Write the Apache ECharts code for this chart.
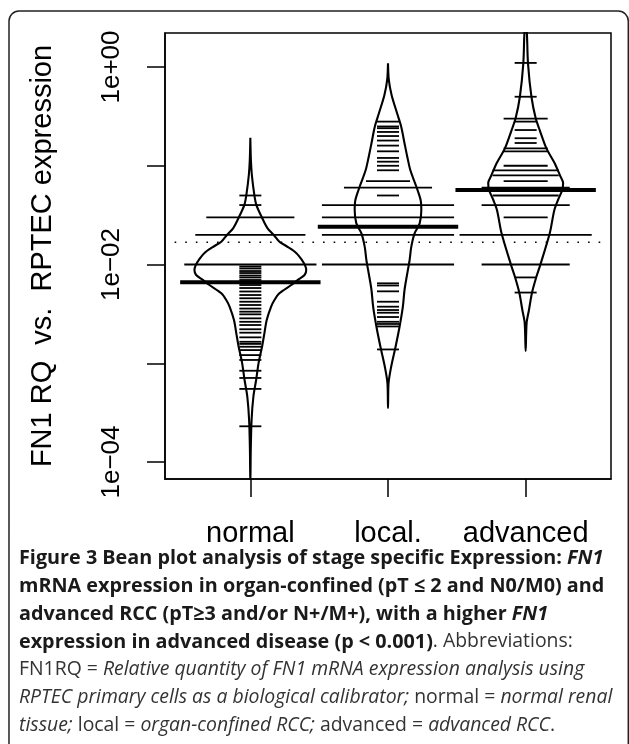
<!DOCTYPE html>
<html>
<head>
<meta charset="utf-8">
<script src="https://cdn.jsdelivr.net/npm/echarts@6/dist/echarts.min.js"></script>
<style>
html,body{margin:0;padding:0;background:#fff;}
#chart{width:629px;height:744px;}
</style>
</head>
<body>
<div id="chart"></div>
<script>
// ---------------- data ----------------
const groups = ['normal', 'local.', 'advanced'];
const groupPositions = [1, 2, 3];

// individual FN1 RQ values (one bean line per value; duplicates lengthen the line)
const normalRQ = [0.05, 0.04, 0.03, 0.03, 0.03, 0.03, 0.02, 0.02, 0.02, 0.02, 0.02,
  0.01, 0.01, 0.01, 0.01, 0.01, 0.01,
  0.00954, 0.00911, 0.00859, 0.0082, 0.00774, 0.00739, 0.00697,
  0.0062, 0.00578, 0.00533, 0.00491, 0.00455, 0.0042, 0.00389, 0.00358, 0.00333,
  0.00313, 0.00285, 0.00263, 0.00244, 0.00221, 0.00204, 0.00183, 0.00165, 0.00157,
  0.00147, 0.00136, 0.00121, 0.00108, 0.00084, 0.00071, 0.00055, 0.00023];
const localRQ = [0.28, 0.25, 0.24, 0.22, 0.20, 0.18, 0.16, 0.14, 0.12, 0.11, 0.10, 0.09,
  0.07, 0.07, 0.06, 0.06, 0.06, 0.06, 0.05,
  0.04, 0.04, 0.04, 0.04, 0.04, 0.04,
  0.03, 0.03, 0.03, 0.03, 0.03, 0.03,
  0.02, 0.02, 0.02, 0.02, 0.02, 0.02,
  0.01, 0.01, 0.01, 0.01, 0.01, 0.01,
  0.00645, 0.00613, 0.00535, 0.0042, 0.00374, 0.00346, 0.00325, 0.00294, 0.00263,
  0.0025, 0.00236, 0.00138];
const advancedRQ = [1.1, 0.50, 0.30, 0.30, 0.28, 0.23, 0.19, 0.17, 0.15, 0.15, 0.14, 0.14,
  0.10, 0.10, 0.09, 0.09, 0.09, 0.08, 0.08, 0.08, 0.07, 0.07,
  0.06, 0.06, 0.06, 0.06, 0.05, 0.05, 0.05, 0.04, 0.04, 0.04, 0.04, 0.03, 0.03,
  0.02, 0.02, 0.02, 0.02, 0.02, 0.02, 0.01, 0.01, 0.01, 0.01, 0.0074, 0.0052];

// bean averages (thick lines) and overall average (dotted line)
const groupMeans = [0.0066, 0.0241, 0.0568];
const overallMean = 0.0168;

// bean outlines: density level (RQ) and half width (x-axis units), top to bottom
const normalBeanLevels = [0.192, 0.114, 0.0806, 0.0506, 0.04, 0.0298, 0.0234, 0.0199, 0.017,
  0.01504, 0.0131, 0.0111, 0.0099, 0.0088, 0.00783, 0.00697, 0.0062, 0.00511, 0.00437,
  0.00374, 0.00274, 0.00201, 0.00147, 0.00101, 0.000677, 0.000458, 0.000266, 0.000132, 0.0000585];
const normalBeanWidths = [0, 0.004, 0.011, 0.029, 0.044, 0.085, 0.124, 0.17, 0.211,
  0.273, 0.333, 0.375, 0.396, 0.406, 0.394, 0.343, 0.297, 0.211, 0.175,
  0.151, 0.119, 0.102, 0.085, 0.06, 0.042, 0.022, 0.009, 0.003, 0];

const localBeanLevels = [1.09, 0.739, 0.521, 0.34, 0.249, 0.169, 0.1235, 0.0906, 0.0613,
  0.045, 0.0356, 0.0261, 0.0207, 0.0151, 0.0111, 0.00783, 0.00552, 0.00374, 0.00234,
  0.00147, 0.000923, 0.000627, 0.000352];
const localBeanWidths = [0, 0.006, 0.026, 0.066, 0.096, 0.12, 0.14, 0.162, 0.206,
  0.237, 0.242, 0.23, 0.193, 0.169, 0.157, 0.138, 0.12, 0.108, 0.084,
  0.055, 0.023, 0.004, 0];

const advancedBeanLevels = [2.99, 2.21, 1.09, 0.5, 0.302, 0.23, 0.15, 0.106, 0.0806, 0.0669,
  0.0568, 0.045, 0.0355, 0.0207, 0.0095, 0.00752, 0.00518, 0.00346, 0.00256, 0.00133];
const advancedBeanWidths = [0, 0.009, 0.017, 0.042, 0.073, 0.102, 0.151, 0.211, 0.248, 0.272,
  0.266, 0.235, 0.208, 0.175, 0.102, 0.078, 0.046, 0.024, 0.007, 0];

// axis ticks
const yTickValues = [1e-4, 1e-3, 1e-2, 1e-1, 1];
const yLabelValues = [1e-4, 1e-2, 1];
const yMin = 6.73e-5, yMax = 2.21;

// ---------------- building ----------------
const LINE_HALF = 0.08, LINE_HALF_MAX = 0.48, MEAN_HALF = 0.51;

function beanLineItems(values, x) {
  const counts = new Map();
  values.forEach(v => counts.set(v, (counts.get(v) || 0) + 1));
  return Array.from(counts, ([v, c]) => [x, v, Math.min(LINE_HALF * c, LINE_HALF_MAX)]);
}
function outline(levels, widths, x) {
  const right = levels.map((v, i) => [x + widths[i], v]);
  const left = levels.map((v, i) => [x - widths[i], v]).reverse();
  return right.concat(left);
}
function hLine(lw, dash) {
  return function (params, api) {
    const x = api.value(0), y = api.value(1), hw = api.value(2);
    const p1 = api.coord([x - hw, y]);
    const p2 = api.coord([x + hw, y]);
    return {
      type: 'line',
      shape: { x1: p1[0], y1: p1[1], x2: p2[0], y2: p2[1] },
      style: { stroke: '#000', lineWidth: lw, lineDash: dash || null }
    };
  };
}

const allRQ = [normalRQ, localRQ, advancedRQ];
const beanLevels = [normalBeanLevels, localBeanLevels, advancedBeanLevels];
const beanWidths = [normalBeanWidths, localBeanWidths, advancedBeanWidths];

const series = [];
groups.forEach((g, i) => {
  series.push({
    name: g + ' bean',
    type: 'line',
    data: outline(beanLevels[i], beanWidths[i], groupPositions[i]),
    symbol: 'none',
    smooth: 0.3,
    clip: true,
    silent: true,
    lineStyle: { color: '#000', width: 2.1 },
    z: 3
  });
  series.push({
    name: g + ' values',
    type: 'custom',
    data: beanLineItems(allRQ[i], groupPositions[i]),
    dimensions: ['x', 'rq', 'hw'],
    encode: { x: 0, y: 1 },
    clip: true,
    silent: true,
    renderItem: hLine(1.8),
    z: 4
  });
});
series.push({
  name: 'bean average',
  type: 'custom',
  data: groupMeans.map((m, i) => [groupPositions[i], m, MEAN_HALF]),
  encode: { x: 0, y: 1 },
  clip: true,
  silent: true,
  renderItem: hLine(4),
  z: 5
});
series.push({
  name: 'overall average',
  type: 'custom',
  data: [[(groupPositions[0] + groupPositions[2]) / 2, overallMean, 1.55]],
  encode: { x: 0, y: 1 },
  clip: true,
  silent: true,
  renderItem: hLine(1.6, [1.6, 9]),
  z: 2
});

const fontR = 'Liberation Sans, Arial, Helvetica, sans-serif';
const capFont = 'Open Sans, Noto Sans, sans-serif';
const capBold = 19.8, capReg = 19.4, capLH = 27.7;

const option = {
  animation: false,
  backgroundColor: '#fff',
  title: {
    left: 19,
    top: 545,
    padding: 0,
    text: '{b|Figure 3 Bean plot analysis of stage specific Expression: }{bi|FN1}\n' +
      '{b|mRNA expression in organ-confined (pT \u2264 2 and N0/M0) and}\n' +
      '{b|advanced RCC (pT\u22653 and/or N+/M+), with a higher }{bi|FN1}\n' +
      '{b|expression in advanced disease (p < 0.001)}{r|. Abbreviations:}\n' +
      '{r|FN1RQ = }{i|Relative quantity of FN1 mRNA expression analysis using}\n' +
      '{i|RPTEC primary cells as a biological calibrator;}{r| normal = }{i|normal renal}\n' +
      '{i|tissue;}{r| local = }{i|organ-confined RCC;}{r| advanced = }{i|advanced RCC}{r|.}',
    textStyle: {
      lineHeight: capLH,
      rich: {
        b: { fontFamily: capFont, fontWeight: 'bold', fontSize: capBold, color: '#1a1a1a', lineHeight: capLH },
        bi: { fontFamily: capFont, fontWeight: 'bold', fontStyle: 'italic', fontSize: capBold, color: '#1a1a1a', lineHeight: capLH },
        r: { fontFamily: capFont, fontWeight: 'normal', fontSize: capReg, color: '#333', lineHeight: capLH },
        i: { fontFamily: capFont, fontWeight: 'normal', fontStyle: 'italic', fontSize: capReg, color: '#333', lineHeight: capLH }
      }
    }
  },
  graphic: [{
    type: 'rect',
    silent: true,
    z: -10,
    shape: { x: 9, y: 11, width: 619.3, height: 800, r: 10 },
    style: { fill: 'none', stroke: '#222', lineWidth: 1.5 }
  }],
  grid: {
    left: 165, top: 33, width: 446, height: 446,
    show: true, borderColor: '#000', borderWidth: 1.5,
    containLabel: false, outerBoundsMode: 'none'
  },
  xAxis: {
    type: 'value',
    min: 0.38, max: 3.62,
    splitLine: { show: false },
    axisLine: { show: true, onZero: false, lineStyle: { color: '#000', width: 1.5 } },
    axisTick: { show: true, customValues: groupPositions, length: 18, lineStyle: { color: '#000', width: 1.5 } },
    axisLabel: {
      customValues: groupPositions,
      formatter: v => groups[Math.round(v) - 1],
      margin: 40, fontSize: 29, color: '#000', fontFamily: fontR
    }
  },
  yAxis: {
    type: 'log',
    logBase: 10,
    min: yMin, max: yMax,
    name: 'FN1 RQ  vs.  RPTEC expression',
    nameLocation: 'middle',
    nameRotate: 90,
    nameGap: 108,
    nameTextStyle: { fontSize: 29, color: '#000', fontFamily: fontR },
    splitLine: { show: false },
    axisLine: { show: true, onZero: false, lineStyle: { color: '#000', width: 1.5 } },
    axisTick: { show: true, customValues: yTickValues, length: 18, lineStyle: { color: '#000', width: 1.5 } },
    axisLabel: {
      customValues: yLabelValues,
      rotate: 90,
      margin: 40,
      fontSize: 26, color: '#000', fontFamily: fontR,
      formatter: v => {
        const e = Math.round(Math.log10(v));
        return '1e' + (e < 0 ? '\u2212' : '+') + String(Math.abs(e)).padStart(2, '0');
      }
    }
  },
  series: series
};

const chart = echarts.init(document.getElementById('chart'), null, { renderer: 'canvas' });
chart.setOption(option);
</script>
</body>
</html>
